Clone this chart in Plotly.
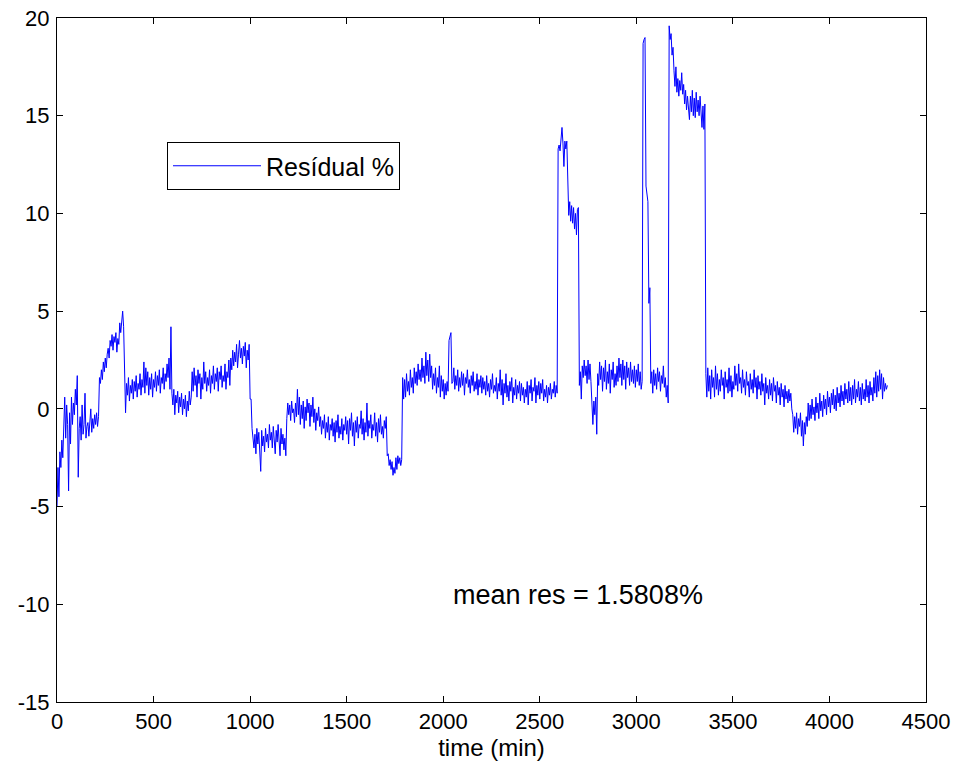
import plotly.graph_objects as go

# time axis (minutes), 5-minute sampling
time_min = list(range(0, 4301, 5))

# residual % values (one row = 100 minutes)
residual_pct = [
    -5.0, -3.0, -4.5, -2.2, -3.0, -1.6, -2.5, -1.2, 0.6, -1.5, 0.2, -0.8, -4.2, -0.2, -1.8, 0.6, -0.8, 0.3, -0.3, 1.0,
    0.2, 1.7, -3.5, -1.0, -0.4, -1.6, 0.2, -1.3, -0.8, 0.8, -1.5, -0.9, -0.7, -1.4, -0.6, 0.0, -1.2, -0.5, -1.0, -0.3,
    -0.8, -0.2, -0.9, -0.4, 1.6, 1.3, 2.0, 1.5, 2.4, 1.9, 2.6, 2.1, 2.8, 3.1, 2.6, 3.5, 3.2, 3.8, 3.0, 3.7,
    3.4, 3.9, 2.9, 3.6, 3.3, 4.4, 3.9, 4.6, 5.0, 4.2, 1.5, -0.2, 1.3, 0.7, 1.6, 0.4, 1.2, 0.8, 1.5, 0.5,
    1.4, 0.9, 1.7, 0.6, 1.3, 1.0, 1.8, 0.7, 1.5, 1.1, 2.4, 0.8, 2.1, 1.2, 1.9, 0.7, 1.6, 1.0, 1.8, 0.6,
    1.5, 1.1, 1.9, 0.9, 1.7, 1.2, 2.0, 0.8, 1.6, 1.3, 2.1, 1.0, 1.8, 1.4, 2.3, 1.6, 2.6, 1.0, 4.2, 0.8,
    0.2, 1.0, -0.3, 0.7, 0.3, 0.9, -0.2, 0.6, 0.1, 0.8, -0.3, 0.5, 0.0, 0.7, -0.4, 0.4, -0.1, 0.9, 0.2, 0.6,
    1.9, 0.9, 2.1, 1.2, 1.7, 0.6, 2.0, 1.3, 1.8, 0.5, 1.6, 1.0, 2.4, 1.3, 1.9, 0.9, 1.6, 1.2, 2.0, 0.8,
    1.7, 1.3, 2.2, 1.0, 1.8, 1.4, 2.1, 0.9, 1.9, 1.5, 2.2, 1.1, 1.7, 1.4, 2.3, 1.0, 1.9, 1.6, 2.5, 1.2,
    2.6, 2.0, 3.0, 2.2, 2.9, 2.4, 3.3, 2.1, 2.8, 3.5, 2.6, 3.1, 2.3, 3.2, 2.7, 3.4, 2.1, 3.0, 2.5, 3.3,
    0.5, 0.5, -1.0, -1.4, -2.0, -1.3, -2.3, -1.0, -1.8, -1.2, -2.1, -3.2, -1.1, -1.9, -1.4, -2.2, -1.0, -1.7, -1.3, -2.0,
    -0.8, -1.6, -1.2, -2.0, -0.9, -1.5, -2.3, -1.1, -1.7, -0.8, -1.4, -2.4, -1.0, -1.8, -1.3, -2.1, -1.5, -2.4, -0.5, 0.3,
    -0.3, 0.2, -0.6, 0.4, -0.2, 0.0, -0.7, 0.3, -0.4, 1.0, -0.3, 0.6, -0.8, 0.2, -0.5, 0.4, -1.0, 0.1, -0.6, 0.5,
    -0.2, 0.3, -0.9, 0.2, -0.4, 0.6, -0.7, 0.0, -1.1, -0.2, -0.6, 0.1, -0.9, -0.4, -1.3, -0.6, -1.0, -0.3, -1.5, -0.7,
    -1.2, -0.4, -1.6, -0.8, -1.1, -0.5, -1.4, -0.7, -1.7, -0.6, -1.2, -0.3, -1.5, -0.9, -1.3, -0.5, -1.6, -0.8, -1.1, -0.4,
    -1.3, -0.6, -1.8, -0.5, -1.1, -0.2, -1.4, -0.7, -1.9, -0.6, -1.2, -0.4, -1.5, -0.8, -1.0, -0.1, -1.3, -0.5, -1.6, -0.7,
    -1.2, 0.3, -1.4, -0.6, -1.0, -0.3, -1.5, -0.8, -1.1, -0.2, -1.4, -0.7, -1.7, -0.5, -1.2, -0.3, -1.3, -0.9, -1.5, -0.6,
    -1.0, -0.4, -2.4, -2.3, -2.9, -2.6, -3.1, -2.7, -3.4, -3.0, -3.3, -2.5, -3.1, -2.4, -2.8, -2.5, -2.9, -2.6, 1.6, 0.5,
    1.5, 0.6, 1.8, 0.9, 1.4, 0.7, 2.0, 1.1, 1.6, 0.8, 2.1, 1.3, 1.9, 1.2, 2.3, 1.5, 2.0, 1.4, 2.6, 1.6,
    2.2, 1.3, 2.9, 1.7, 2.5, 1.4, 2.8, 1.6, 2.2, 1.0, 1.8, 1.2, 2.1, 0.8, 1.6, 1.1, 2.2, 0.6, 1.7, 0.9,
    1.5, 0.5, 1.3, 0.7, 1.4, 0.9, 3.5, 3.7, 3.9, 1.3, 1.4, 2.1, 1.0, 1.7, 1.2, 2.0, 0.9, 1.6, 1.1, 1.9,
    1.2, 1.8, 0.7, 1.6, 1.3, 2.0, 1.1, 1.5, 0.8, 1.7, 1.2, 1.9, 0.9, 1.4, 1.0, 1.8, 0.7, 1.5, 1.1, 1.7,
    0.8, 1.6, 1.0, 1.4, 0.7, 1.7, 0.9, 1.3, 0.6, 1.5, 1.0, 1.8, 0.8, 1.2, 0.9, 1.6, 0.5, 1.3, 0.9, 2.0,
    0.7, 1.5, 0.2, 1.3, 0.8, 1.8, 0.6, 1.2, 0.4, 1.4, 0.9, 1.6, 0.3, 1.1, 0.7, 1.5, 0.5, 1.2, 0.8, 1.4,
    0.4, 1.3, 0.7, 1.1, 0.3, 1.0, 0.6, 1.4, 0.2, 1.2, 0.8, 1.5, 0.4, 1.1, 0.9, 1.6, 0.3, 1.2, 0.7, 1.4,
    0.5, 1.3, 0.8, 1.5, 0.4, 1.0, 0.6, 1.2, 0.3, 1.1, 0.7, 1.3, 0.5, 1.0, 0.8, 1.4, 0.6, 1.2, 0.8, 13.3,
    13.5, 13.2, 13.8, 14.4, 13.6, 12.4, 13.7, 13.3, 13.7, 10.8, 9.9, 10.6, 9.6, 10.4, 9.5, 10.3, 9.2, 10.0, 8.9, 10.2,
    10.3, 1.2, 1.9, 0.5, 2.2, 1.6, 2.5, 1.7, 2.2, 1.3, 2.5, 1.5, 2.3, 1.4, 0.0, -0.8, 0.4, -0.3, 0.6, -1.3,
    1.8, 1.2, 2.4, 1.5, 2.2, 0.9, 2.1, 1.4, 2.5, 1.0, 1.9, 1.3, 2.3, 0.8, 2.0, 1.5, 2.4, 1.1, 1.8, 1.2,
    2.2, 1.4, 2.6, 1.6, 2.3, 1.2, 2.5, 1.5, 2.2, 1.0, 2.4, 1.6, 2.1, 1.2, 2.4, 1.4, 2.0, 1.3, 2.2, 1.1,
    2.0, 1.4, 2.3, 1.2, 1.9, 1.0, 1.4, 18.7, 18.9, 19.0, 11.4, 10.8, 10.6, 5.4, 6.2, 1.3, 1.9, 0.8, 2.0, 1.2,
    1.8, 1.0, 2.1, 1.4, 1.9, 0.9, 1.7, 1.3, 2.2, 1.1, 1.6, 0.6, 1.2, 0.3, 19.6, 18.9, 19.2, 18.1, 18.5, 17.3,
    16.5, 17.5, 16.2, 16.9, 16.0, 16.8, 16.3, 17.2, 16.1, 16.6, 15.6, 16.3, 15.3, 16.0, 15.5, 14.8, 16.0, 15.2, 16.3, 15.0,
    15.9, 14.9, 16.2, 15.2, 15.8, 15.0, 16.0, 15.3, 14.4, 15.5, 14.3, 15.6, 1.8, 0.6, 2.1, 0.9, 1.7, 0.5, 2.0, 1.1,
    1.6, 0.6, 2.2, 1.0, 1.8, 0.7, 1.5, 0.9, 2.0, 1.2, 1.6, 0.5, 1.9, 1.1, 1.5, 0.8, 2.1, 0.9, 1.7, 0.6,
    1.4, 1.0, 2.2, 1.2, 1.8, 0.9, 2.3, 1.3, 1.6, 0.8, 2.0, 1.1, 1.5, 0.7, 1.9, 1.2, 1.4, 0.6, 1.8, 1.0,
    1.5, 0.8, 2.0, 1.1, 1.6, 0.5, 1.7, 1.0, 1.4, 0.7, 1.8, 0.9, 1.3, 0.2, 1.6, 0.8, 1.2, 0.5, 1.5, 0.7,
    1.3, 0.4, 1.6, 0.9, 1.2, 0.3, 1.4, 0.7, 1.1, 0.2, 1.3, 0.6, 1.0, 0.1, 1.2, 0.5, 0.9, 0.3, 1.0, 0.4,
    0.8, 0.0, -0.3, -1.2, -0.4, -1.0, -0.2, -1.3, -0.5, -0.9, -0.2, -1.4, -0.6, -1.9, -0.7, -1.3, -0.4, -0.9, 0.3, -0.6,
    0.2, -0.5, 0.5, -0.3, 0.1, -0.6, 0.6, -0.2, 0.3, -0.5, 0.8, -0.1, 0.4, -0.4, 0.7, 0.0, 0.5, -0.3, 0.9, 0.1,
    0.6, -0.2, 0.8, 0.2, 1.0, 0.0, 0.7, -0.1, 1.1, 0.3, 0.8, 0.1, 1.2, 0.4, 0.9, 0.2, 1.3, 0.5, 1.0, 0.3,
    1.4, 0.4, 1.1, 0.2, 1.2, 0.5, 1.5, 0.3, 1.0, 0.6, 1.4, 0.4, 1.1, 0.2, 1.3, 0.5, 1.0, 0.4, 1.5, 0.6,
    1.2, 0.3, 1.4, 0.7, 1.1, 0.4, 1.6, 0.8, 1.9, 0.6, 1.7, 0.9, 2.0, 1.0, 1.8, 0.5, 1.6, 0.9, 1.3, 1.0,
    1.2,
]

x_ticks = [0, 500, 1000, 1500, 2000, 2500, 3000, 3500, 4000, 4500]
y_ticks = [-15, -10, -5, 0, 5, 10, 15, 20]
series_name = "Resídual %"
mean_label = "mean res = 1.5808%"
x_title = "time (min)"

FONT = "Liberation Sans, Arial, sans-serif"

fig = go.Figure()
fig.add_trace(go.Scatter(
    x=time_min, y=residual_pct, mode="lines", name=series_name,
    line=dict(color="#0000FF", width=1),
    showlegend=True,
))

fig.add_annotation(
    x=2040, y=-9.5, xref="x", yref="y", text=mean_label, showarrow=False,
    xanchor="left", yanchor="middle", font=dict(family=FONT, size=27, color="black"),
)

axis_common = dict(
    showline=True, linecolor="black", linewidth=1, mirror="ticks",
    ticks="inside", ticklen=6, tickcolor="black", tickwidth=1,
    showgrid=False, zeroline=False, automargin=False,
    ticklabeloverflow="allow",
    tickfont=dict(family=FONT, size=22, color="black"),
)

fig.update_layout(
    width=959, height=776,
    paper_bgcolor="white", plot_bgcolor="white",
    margin=dict(l=57, r=33, t=18, b=74, autoexpand=False),
    font=dict(family=FONT, size=22, color="black"),
    xaxis=dict(range=[0, 4500], tickvals=x_ticks, ticktext=[str(v) for v in x_ticks],
               title=dict(text=x_title, font=dict(family=FONT, size=24), standoff=2),
               ticklabelstandoff=0,
               **axis_common),
    yaxis=dict(range=[-15, 20], tickvals=y_ticks, ticktext=[str(v) for v in y_ticks],
               ticklabelstandoff=2, **axis_common),
    legend=dict(
        x=0.1266, y=0.8187, xanchor="left", yanchor="top",
        bgcolor="white", bordercolor="black", borderwidth=1,
        font=dict(family=FONT, size=25, color="black"),
        itemwidth=88,
    ),
)

fig.write_html(
    "out.html",
    config={"displayModeBar": False},
    post_script="document.body.style.margin='0';document.body.style.overflow='hidden';",
)
